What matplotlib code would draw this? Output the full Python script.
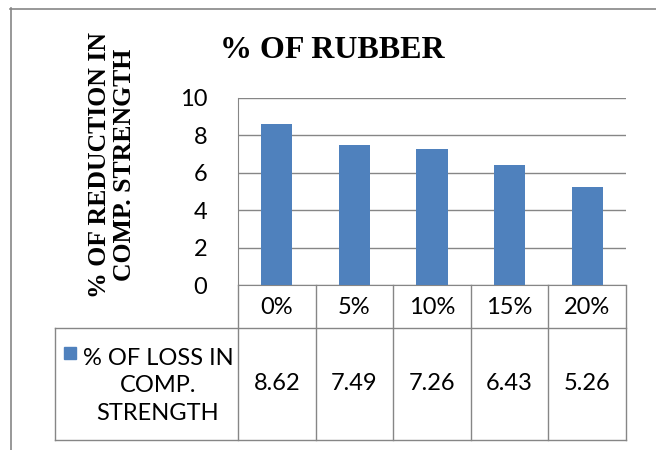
import numpy as np
import matplotlib.pyplot as plt
from matplotlib.patches import Rectangle
from matplotlib.lines import Line2D

categories = ['0%', '5%', '10%', '15%', '20%']
values = [8.62, 7.49, 7.26, 6.43, 5.26]
series_name = '% OF LOSS IN\nCOMP.\nSTRENGTH'
title = '% OF RUBBER'
ylabel = '% OF REDUCTION IN\nCOMP. STRENGTH'
yticks = [0, 2, 4, 6, 8, 10]

W, H = 656, 450
BLUE = '#4F81BD'
GRID = '#868686'
SERIF = 'Liberation Serif'
SANS = 'Lato'
FS = 17


def fx(px):
    return px / W


def fy(py):
    return 1 - py / H


fig = plt.figure(figsize=(W / 100, H / 100), dpi=100)

# outer chart border (only top and left edges are inside the picture)
fig.add_artist(Line2D([fx(10), 1], [fy(8.5), fy(8.5)], color=GRID, lw=1.2))
fig.add_artist(Line2D([fx(10.5), fx(10.5)], [fy(8), 0], color=GRID, lw=1.2))

# plot area
left, right, top, bottom = 238, 626, 98, 285
ax = fig.add_axes([fx(left), fy(bottom), fx(right - left), (bottom - top) / H])
x = np.arange(len(categories))
ax.bar(x, values, width=0.4, color=BLUE, zorder=3)
ax.set_xlim(-0.5, len(categories) - 0.5)
ax.set_ylim(0, 10)
ax.set_yticks(yticks)
ax.set_xticks([])
ax.yaxis.grid(True, color=GRID, lw=1.0, zorder=0)
ax.tick_params(axis='y', length=0, pad=22, labelsize=FS)
for lab in ax.get_yticklabels():
    lab.set_fontfamily(SANS)
for s in ['top', 'right']:
    ax.spines[s].set_visible(False)
ax.spines['left'].set_color(GRID)
ax.spines['bottom'].set_color(GRID)

# data table below the plot
tbot = 440
tab = fig.add_axes([fx(left), fy(tbot), fx(right - left), (tbot - bottom) / H], sharex=ax)
tab.set_ylim(tbot - bottom, 0)
tab.axis('off')
row1 = 328 - bottom
row_end = tbot - bottom
ext = -0.5 - (left - 55) / ((right - left) / len(categories))
kw = dict(color=GRID, lw=1.0, clip_on=False)
for b in np.arange(len(categories) + 1) - 0.5:
    tab.plot([b, b], [0, row_end], **kw)
tab.plot([ext, 4.5], [row1, row1], **kw)
tab.plot([ext, 4.5], [row_end, row_end], **kw)
tab.plot([ext, ext], [row1, row_end], **kw)

for i, c in enumerate(categories):
    tab.text(i, row1 / 2 + 1, c, ha='center', va='center', fontsize=FS, family=SANS)
for i, v in enumerate(values):
    tab.text(i, (row1 + row_end) / 2, f'{v:.2f}', ha='center', va='center', fontsize=FS, family=SANS)

# legend key + series name
fig.patches.append(Rectangle((fx(64), fy(359)), fx(12), 12 / H, transform=fig.transFigure,
                             color=BLUE))
fig.text(fx(158), fy(386), series_name, ha='center', va='center', fontsize=FS,
         family=SANS, linespacing=1.4)

fig.text(fx(332), fy(50), title, ha='center', va='center', fontsize=23,
         fontweight='bold', family=SERIF)
fig.text(fx(112), fy(165), ylabel, ha='center', va='center', rotation=90,
         fontsize=18.5, fontweight='bold', family=SERIF, linespacing=1.1)

fig.savefig('out.png', dpi=100)
